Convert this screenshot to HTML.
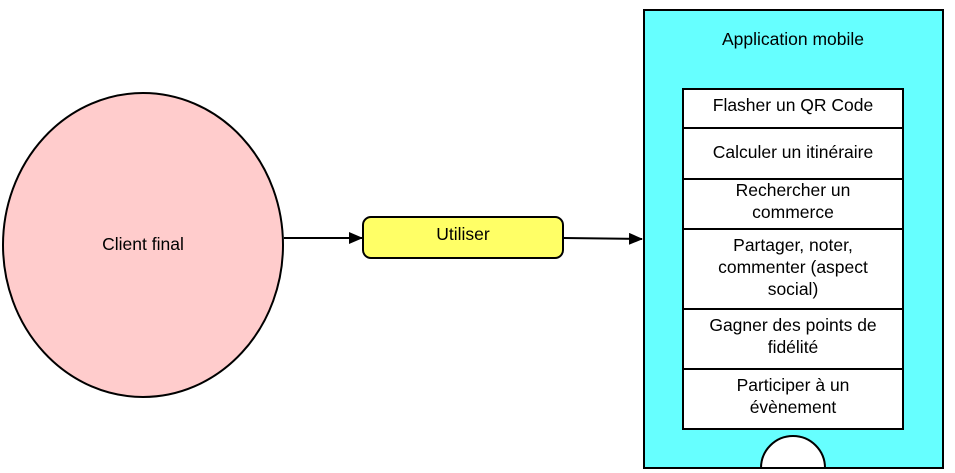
<!DOCTYPE html>
<html><head><meta charset="utf-8"><style>
html,body{margin:0;padding:0;background:#fff;}
svg{display:block;}
text{font-family:"Liberation Sans",sans-serif;font-size:17.5px;fill:#000;text-anchor:middle;}
</style></head><body>
<svg width="955" height="473" viewBox="0 0 955 473">
<defs><marker id="a" markerWidth="14" markerHeight="12" refX="13" refY="6" orient="auto" markerUnits="userSpaceOnUse"><path d="M0,0 L14,6 L0,12 z" fill="#000"/></marker></defs>
<ellipse cx="143" cy="245" rx="140" ry="152" fill="#ffcccc" stroke="#000" stroke-width="2"/>
<text x="143" y="250">Client final</text>
<line x1="284" y1="238" x2="362" y2="238" stroke="#000" stroke-width="2" marker-end="url(#a)"/>
<rect x="363" y="217" width="200" height="41" rx="8" fill="#ffff66" stroke="#000" stroke-width="2"/>
<text x="463" y="240">Utiliser</text>
<line x1="564" y1="238" x2="642" y2="239" stroke="#000" stroke-width="2" marker-end="url(#a)"/>
<rect x="644" y="10" width="299" height="458" fill="#66ffff" stroke="#000" stroke-width="2"/>
<text x="793" y="45">Application mobile</text>
<rect x="683" y="89" width="220" height="340" fill="#fff" stroke="#000" stroke-width="2"/>
<g stroke="#000" stroke-width="2">
<line x1="683" y1="128" x2="903" y2="128"/>
<line x1="683" y1="179" x2="903" y2="179"/>
<line x1="683" y1="229" x2="903" y2="229"/>
<line x1="683" y1="309" x2="903" y2="309"/>
<line x1="683" y1="369" x2="903" y2="369"/>
</g>
<text x="793" y="111">Flasher un QR Code</text>
<text x="793" y="158">Calculer un itinéraire</text>
<text x="793" y="196">Rechercher un</text>
<text x="793" y="218">commerce</text>
<text x="793" y="251">Partager, noter,</text>
<text x="793" y="273">commenter (aspect</text>
<text x="793" y="295">social)</text>
<text x="793" y="331">Gagner des points de</text>
<text x="793" y="353">fidélité</text>
<text x="793" y="391">Participer à un</text>
<text x="793" y="413">évènement</text>
<path d="M761,468 A32,32 0 0 1 825,468 Z" fill="#fff" stroke="#000" stroke-width="2"/>
</svg>
</body></html>
